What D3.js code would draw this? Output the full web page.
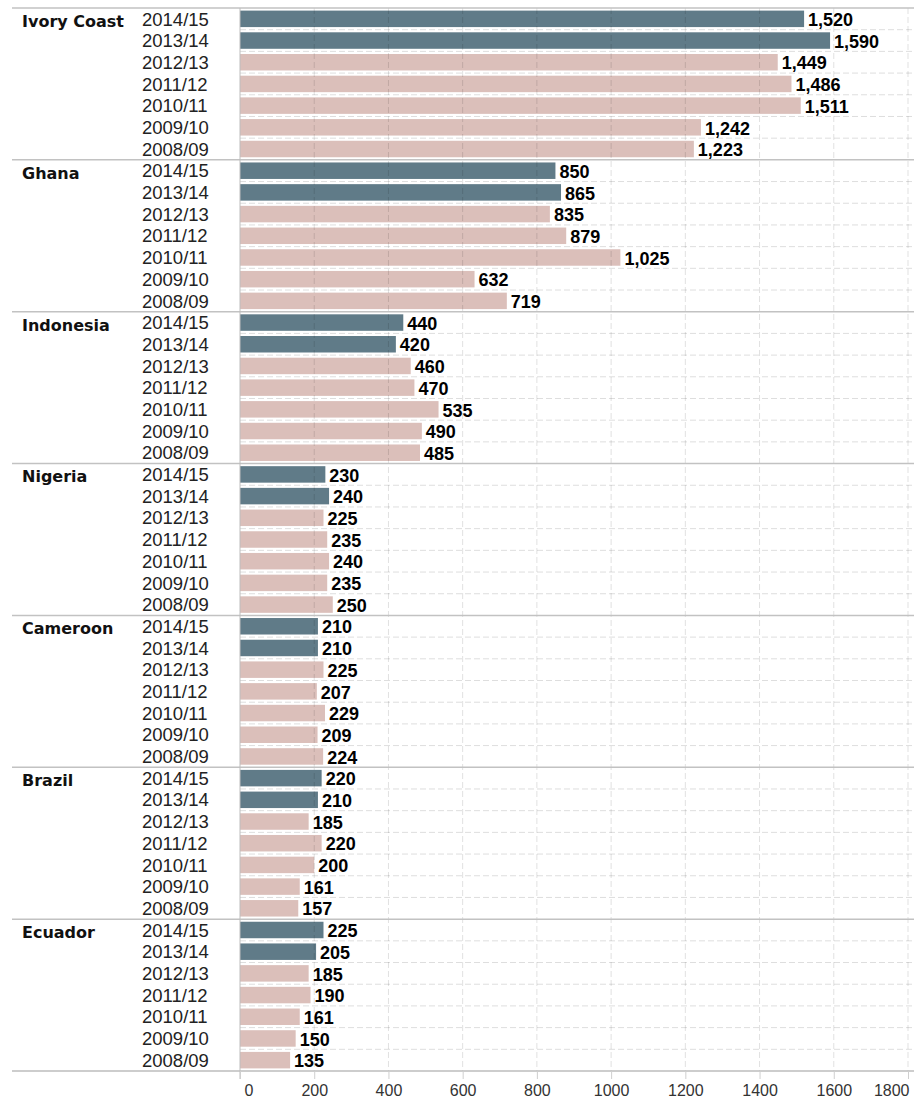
<!DOCTYPE html>
<html>
<head>
<meta charset="utf-8">
<script src="https://cdn.jsdelivr.net/npm/d3@7"></script>
<style>
  body { margin: 0; background: #fff; }
  svg { display: block; }
</style>
</head>
<body>
<div id="chart"></div>
<script>
// Cocoa production by country and season (thousand tonnes)
const countries = ["Ivory Coast", "Ghana", "Indonesia", "Nigeria", "Cameroon", "Brazil", "Ecuador"];
const seasons = ["2014/15", "2013/14", "2012/13", "2011/12", "2010/11", "2009/10", "2008/09"];
const highlightSeasons = ["2014/15", "2013/14"];

const ivoryCoast = [1520, 1590, 1449, 1486, 1511, 1242, 1223];
const ghana = [850, 865, 835, 879, 1025, 632, 719];
const indonesia = [440, 420, 460, 470, 535, 490, 485];
const nigeria = [230, 240, 225, 235, 240, 235, 250];
const cameroon = [210, 210, 225, 207, 229, 209, 224];
const brazil = [220, 210, 185, 220, 200, 161, 157];
const ecuador = [225, 205, 185, 190, 161, 150, 135];

const xTicks = [0, 200, 400, 600, 800, 1000, 1200, 1400, 1600, 1800];

const seriesByCountry = [ivoryCoast, ghana, indonesia, nigeria, cameroon, brazil, ecuador];

// flatten to rows
const rows = [];
countries.forEach((c, i) => {
  seasons.forEach((s, j) => {
    rows.push({ country: c, season: s, value: seriesByCountry[i][j], key: c + "|" + s });
  });
});

const width = 914, height = 1101;
const plotLeft = 240, plotRight = 908, plotTop = 8, plotBottom = 1071;
const darkColor = "#607b88";
const lightColor = "#dbbfba";

const svg = d3.select("#chart").append("svg")
  .attr("width", width)
  .attr("height", height);

const x = d3.scaleLinear().domain([0, 1800]).range([plotLeft, plotRight]);
const y = d3.scaleBand().domain(rows.map(d => d.key)).range([plotTop, plotBottom]).paddingInner(0.24).paddingOuter(0.12);
const step = y.step();

// horizontal dashed row lines
const rowLines = svg.append("g");
rows.forEach((d, i) => {
  if (i % 7 === 0) return;
  const yy = plotTop + i * step;
  rowLines.append("line")
    .attr("x1", plotLeft).attr("x2", width)
    .attr("y1", yy).attr("y2", yy)
    .attr("stroke", "#dedede")
    .attr("stroke-dasharray", "6,3");
});

// bars
svg.append("g")
  .selectAll("rect")
  .data(rows)
  .enter()
  .append("rect")
  .attr("x", x(0))
  .attr("y", d => y(d.key))
  .attr("width", d => x(d.value) - x(0))
  .attr("height", y.bandwidth())
  .attr("fill", d => highlightSeasons.includes(d.season) ? darkColor : lightColor);

// vertical gridlines (over bars, faint)
svg.append("g")
  .selectAll("line")
  .data(xTicks.slice(1))
  .enter()
  .append("line")
  .attr("x1", d => x(d)).attr("x2", d => x(d))
  .attr("y1", plotTop).attr("y2", plotBottom)
  .attr("stroke", "rgba(0,0,0,0.12)")
  .attr("stroke-dasharray", "6,3");

// group separators
const groupLines = svg.append("g");
countries.forEach((c, i) => {
  const yy = plotTop + i * 7 * step;
  groupLines.append("line")
    .attr("x1", 12).attr("x2", width)
    .attr("y1", yy).attr("y2", yy)
    .attr("stroke", "#c2c2c2")
    .attr("stroke-width", 1.5);
});

// y axis line
svg.append("line")
  .attr("x1", plotLeft).attr("x2", plotLeft)
  .attr("y1", plotTop).attr("y2", plotBottom + 8)
  .attr("stroke", "#bdbdbd");

// bottom axis
svg.append("line")
  .attr("x1", 12).attr("x2", width)
  .attr("y1", plotBottom).attr("y2", plotBottom)
  .attr("stroke", "#bdbdbd")
  .attr("stroke-width", 1.5);

const xAxis = svg.append("g")
  .attr("transform", `translate(0,${plotBottom})`)
  .call(d3.axisBottom(x).tickValues(xTicks).tickSize(8).tickFormat(d3.format("d")));
xAxis.select(".domain").remove();
xAxis.selectAll(".tick line").attr("stroke", "#cfcfcf");
xAxis.selectAll(".tick text")
  .attr("y", 14)
  .attr("fill", "#333")
  .style("font-family", "'Liberation Sans', Arial, sans-serif")
  .style("font-size", "16px")
  .attr("text-anchor", (d, i) => i === 0 ? "start" : (i === xTicks.length - 1 ? "end" : "middle"))
  .attr("dx", (d, i) => i === 0 ? 4 : (i === xTicks.length - 1 ? 1 : 0));

// season labels
svg.append("g")
  .selectAll("text")
  .data(rows)
  .enter()
  .append("text")
  .attr("x", 142)
  .attr("y", d => y(d.key) + y.bandwidth() / 2)
  .attr("dy", "0.36em")
  .attr("fill", "#222")
  .style("font-family", "'Liberation Sans', Arial, sans-serif")
  .style("font-size", "18.5px")
  .text(d => d.season);

// country labels
svg.append("g")
  .selectAll("text")
  .data(countries)
  .enter()
  .append("text")
  .attr("x", 22)
  .attr("y", (d, i) => plotTop + i * 7 * step + step / 2 + 2)
  .attr("dy", "0.38em")
  .attr("fill", "#111")
  .style("font-family", "'DejaVu Sans', sans-serif")
  .style("font-weight", "bold")
  .style("font-size", "16px")
  .text(d => d);

// value labels
svg.append("g")
  .selectAll("text")
  .data(rows)
  .enter()
  .append("text")
  .attr("x", d => x(d.value) + 4)
  .attr("y", d => y(d.key) + y.bandwidth() / 2)
  .attr("dy", "0.4em")
  .attr("fill", "#000")
  .style("font-family", "'Liberation Sans', Arial, sans-serif")
  .style("font-weight", "bold")
  .style("font-size", "18px")
  .text(d => d3.format(",")(d.value));
</script>
</body>
</html>
